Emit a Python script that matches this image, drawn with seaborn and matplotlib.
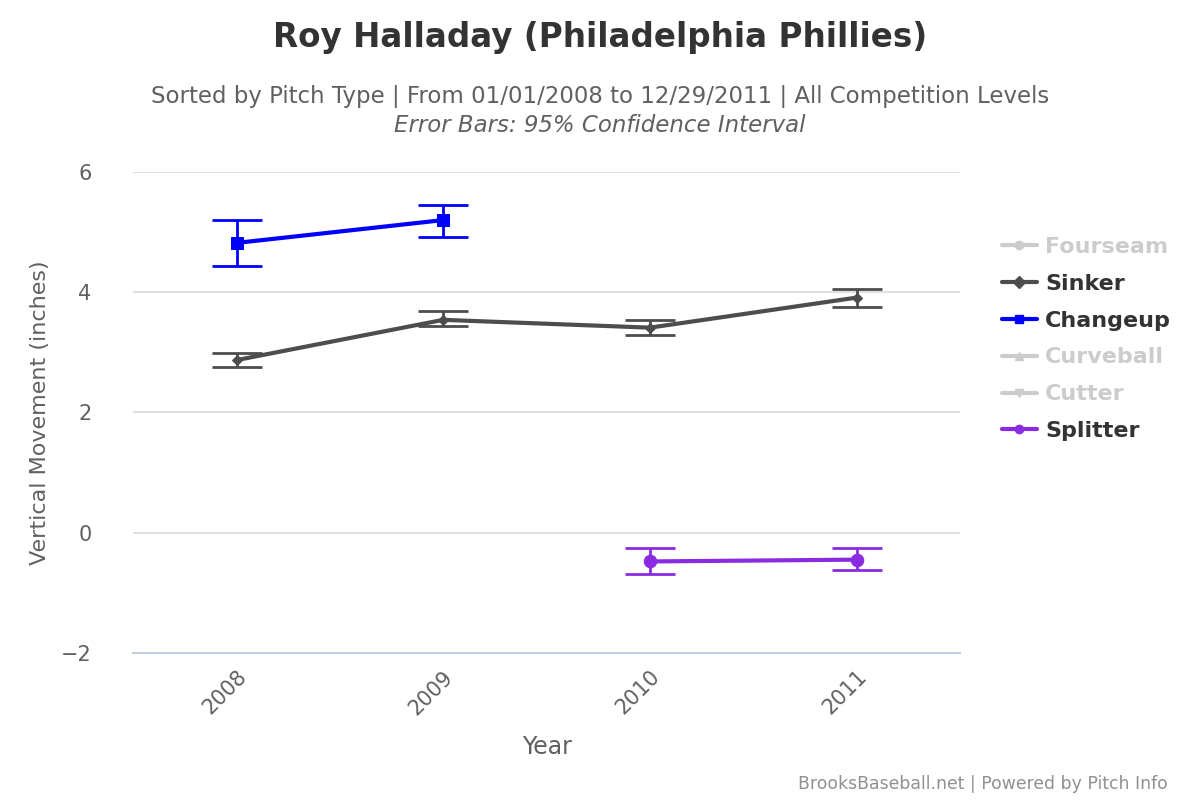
import numpy as np
import pandas as pd
import matplotlib
matplotlib.use("Agg")
import matplotlib.pyplot as plt
from matplotlib.lines import Line2D
import seaborn as sns

## data
years = [2008, 2009, 2010, 2011]

sinker_val = [2.87, 3.54, 3.41, 3.91]
sinker_lo = [2.76, 3.43, 3.29, 3.76]
sinker_hi = [2.99, 3.69, 3.53, 4.06]

changeup_yrs = [2008, 2009]
changeup_val = [4.82, 5.20]
changeup_lo = [4.43, 4.92]
changeup_hi = [5.20, 5.45]

splitter_yrs = [2010, 2011]
splitter_val = [-0.48, -0.45]
splitter_lo = [-0.69, -0.63]
splitter_hi = [-0.26, -0.26]

legend_names = ["Fourseam", "Sinker", "Changeup", "Curveball", "Cutter", "Splitter"]
legend_markers = ["o", "D", "s", "^", "v", "o"]
legend_active = [False, True, True, False, False, True]

colors = {"Sinker": "#4d4d4d", "Changeup": "#0000ff", "Splitter": "#8a2be2"}
markers = {"Sinker": "D", "Changeup": "s", "Splitter": "o"}
msizes = {"Sinker": 5, "Changeup": 9, "Splitter": 9}

series = {
    "Sinker": (years, sinker_val, sinker_lo, sinker_hi),
    "Changeup": (changeup_yrs, changeup_val, changeup_lo, changeup_hi),
    "Splitter": (splitter_yrs, splitter_val, splitter_lo, splitter_hi),
}

rows = []
for name, (yr, v, lo, hi) in series.items():
    for a, b, c, d in zip(yr, v, lo, hi):
        rows.append({"Pitch": name, "Year": a, "Value": b, "Lo": c, "Hi": d})
df = pd.DataFrame(rows)

sns.set_style("white")
plt.rcParams['font.family'] = ['DejaVu Sans']

fig = plt.figure(figsize=(12, 8), dpi=100)
ax = fig.add_axes([0.111, 0.184, 0.689, 0.601])

for name in series:
    sub = df[df.Pitch == name]
    ax.errorbar(sub.Year, sub.Value,
                yerr=[sub.Value - sub.Lo, sub.Hi - sub.Value],
                fmt="none", ecolor=colors[name], elinewidth=2,
                capsize=18, capthick=2, zorder=2)
    sns.lineplot(data=sub, x="Year", y="Value", ax=ax, color=colors[name],
                 marker=markers[name], markersize=msizes[name],
                 markeredgecolor=colors[name], linewidth=3, zorder=3,
                 errorbar=None)

ax.set_xlim(2007.5, 2011.5)
ax.set_ylim(-2, 6)
ax.set_xticks(years)
ax.set_xticklabels([str(y) for y in years], rotation=45, ha="right",
                   rotation_mode="anchor", fontsize=15, color="#606060")
ax.set_yticks([-2, 0, 2, 4, 6])
ax.set_yticklabels(["\u22122", "0", "2", "4", "6"], fontsize=15, color="#606060")
ax.tick_params(axis="y", pad=30, length=0)
ax.tick_params(axis="x", pad=10, length=0)
ax.yaxis.grid(True, color="#e0e0e0", linewidth=1.5)
ax.set_axisbelow(True)
for s in ["top", "right", "left"]:
    ax.spines[s].set_visible(False)
ax.spines["bottom"].set_color("#c0d0e0")
ax.spines["bottom"].set_linewidth(1.5)

ax.set_xlabel("Year", fontsize=17, color="#606060", labelpad=12)
ax.set_ylabel("Vertical Movement (inches)", fontsize=16, color="#606060", labelpad=8)

fig.text(0.5, 0.953, "Roy Halladay (Philadelphia Phillies)", ha="center", va="center",
         fontsize=23.5, fontweight="bold", color="#333333")
fig.text(0.5, 0.879, "Sorted by Pitch Type | From 01/01/2008 to 12/29/2011 | All Competition Levels",
         ha="center", va="center", fontsize=16.5, color="#606060")
fig.text(0.5, 0.843, "Error Bars: 95% Confidence Interval", ha="center", va="center",
         fontsize=16.5, color="#606060", style="italic")
fig.text(0.973, 0.02, "BrooksBaseball.net | Powered by Pitch Info", ha="right", va="center",
         fontsize=12.4, color="#909090")

handles = []
for name, mk, act in zip(legend_names, legend_markers, legend_active):
    c = colors[name] if act else "#cccccc"
    handles.append(Line2D([0], [0], color=c, marker=mk, markersize=6, linewidth=3))
leg = fig.legend(handles, legend_names, loc="upper left", bbox_to_anchor=(0.818, 0.729),
                 frameon=False, handlelength=1.6, handletextpad=0.35, labelspacing=0.76,
                 prop={"weight": "bold", "size": 16})
for txt, act in zip(leg.get_texts(), legend_active):
    txt.set_color("#333333" if act else "#cccccc")

fig.savefig("out.png", dpi=100)
